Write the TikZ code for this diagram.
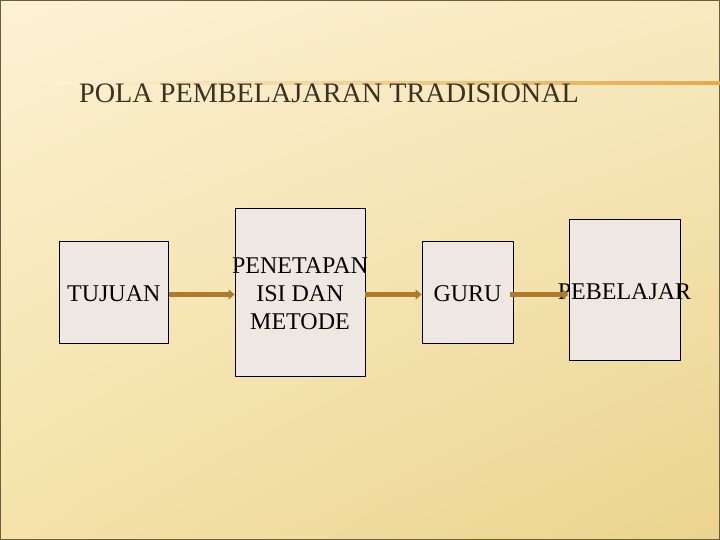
\documentclass[tikz,border=0pt]{standalone}
\usepackage{fontspec}
\setmainfont{Liberation Serif}
\usetikzlibrary{arrows.meta,positioning,shadings}
\definecolor{bgA}{HTML}{FCF2D4}
\definecolor{bgB}{HTML}{F8EAC0}
\definecolor{bgC}{HTML}{F4E2A8}
\definecolor{bgD}{HTML}{EAD48E}
\definecolor{boxfill}{HTML}{EFE7E2}
\definecolor{flowcol}{HTML}{B07A2C}
\definecolor{rulecol}{HTML}{E6A84A}
\definecolor{titlecol}{HTML}{3C3222}
\tikzset{
  box/.style={draw=black, line width=0.8pt, fill=boxfill, inner sep=0pt},
  boxtext/.style={inner sep=0pt, align=center, font=\fontsize{24}{28}\selectfont},
  flow/.style={draw=flowcol, line width=5pt, -{Triangle[length=6pt,width=10pt]}}
}
\begin{document}
\begin{tikzpicture}[x=1pt,y=-1pt, line join=round]
\useasboundingbox (0,0) rectangle (720,540);
\shade[upper left=bgA, upper right=bgB, lower left=bgC, lower right=bgD] (0,0) rectangle (720,540);
\draw[color=black!55!bgD, line width=1pt] (0.5,0.5) rectangle (719.5,539.5);
\shade[left color=bgA, right color=rulecol] (55,82) rectangle (720,84.5);
\node[anchor=base west, inner sep=0pt, text=titlecol, font=\fontsize{28.2}{32}\selectfont] (title) at (79,103) {POLA PEMBELAJARAN TRADISIONAL};
\node[box, minimum width=109pt, minimum height=102pt] (tuj) at (113.8,292) {};
\node[box, minimum width=130pt, minimum height=168pt] (pen) at (300,292) {};
\node[box, minimum width=91pt, minimum height=102pt] (guru) at (467.5,292) {};
\node[box, minimum width=111pt, minimum height=141pt] (peb) at (624.5,289.5) {};
\foreach \b/\t in {tuj/TUJUAN, pen/{PENETAPAN\\ISI DAN\\METODE}, guru/GURU, peb/PEBELAJAR}
  \node[boxtext] (\b txt) at ([yshift=-2pt]\b.center) {\t};
\draw[flow] ([yshift=-2.5pt]tuj.east) -- ([yshift=-2.5pt]pen.west);
\draw[flow] ([yshift=-2.5pt]pen.east) -- ([yshift=-2.5pt]guru.west);
\draw[flow] ([xshift=-3pt,yshift=-2.5pt]guru.east) -- ([yshift=-2.5pt]guru.east -| peb.west);
\end{tikzpicture}
\end{document}
